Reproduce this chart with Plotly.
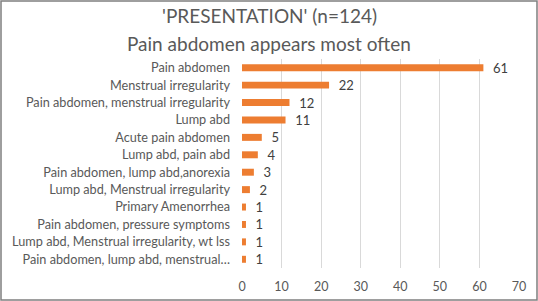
import plotly.graph_objects as go

categories = [
    "Pain abdomen",
    "Menstrual irregularity",
    "Pain abdomen, menstrual irregularity",
    "Lump abd",
    "Acute pain abdomen",
    "Lump abd, pain abd",
    "Pain abdomen, lump abd,anorexia",
    "Lump abd, Menstrual irregularity",
    "Primary Amenorrhea",
    "Pain abdomen, pressure symptoms",
    "Lump abd, Menstrual irregularity, wt lss",
    "Pain abdomen, lump abd, menstrual…",
]
values = [61, 22, 12, 11, 5, 4, 3, 2, 1, 1, 1, 1]
x_ticks = [0, 10, 20, 30, 40, 50, 60, 70]
title_lines = ["'PRESENTATION' (n=124)", "Pain abdomen appears most often"]

W, H = 538, 301
L, R, T, B = 242, 19, 59, 33
pw, ph = W - L - R, H - T - B

FONT = "Lato"
fig = go.Figure(go.Bar(
    x=values, y=categories, orientation="h",
    marker=dict(color="#ED7D31", line=dict(width=0)),
    text=values, texttemplate="  %{x}", textposition="outside",
    cliponaxis=False, constraintext="none",
    textfont=dict(family=FONT, size=13, color="#404040"),
))

annotations = []
for line, yc in zip(title_lines, [16, 43]):
    annotations.append(dict(
        text=line, xref="paper", yref="paper",
        x=(W / 2 - L) / pw, xanchor="center",
        y=1 + (T - yc) / ph, yanchor="middle",
        showarrow=False,
        font=dict(family=FONT, size=19, color="#595959"),
    ))

fig.update_layout(
    width=W, height=H,
    margin=dict(l=L, r=R, t=T, b=B),
    paper_bgcolor="white", plot_bgcolor="white",
    bargap=0.6,
    showlegend=False,
    annotations=annotations,
    xaxis=dict(
        range=[0, 70], tickvals=x_ticks, showgrid=True, gridcolor="#D9D9D9",
        gridwidth=1, zeroline=False, showline=False, automargin=False,
        tickfont=dict(family=FONT, size=12.5, color="#595959"),
        ticks="", fixedrange=True, ticklabelstandoff=9,
    ),
    yaxis=dict(
        categoryorder="array", categoryarray=categories[::-1],
        showgrid=False, zeroline=False, showline=False, ticks="",
        automargin=False, ticklabelstandoff=11, fixedrange=True,
        tickfont=dict(family=FONT, size=12.7, color="#595959"),
    ),
    shapes=[dict(
        type="rect", xref="paper", yref="paper",
        x0=-(L - 1) / pw, x1=1 + (R - 1) / pw,
        y0=-(B - 1) / ph, y1=1 + (T - 1) / ph,
        line=dict(color="#7F7F7F", width=1.5), fillcolor="rgba(0,0,0,0)",
    )],
)

fig.write_html(
    "out.html",
    config={"displayModeBar": False},
    post_script="document.body.style.margin='0';",
)
